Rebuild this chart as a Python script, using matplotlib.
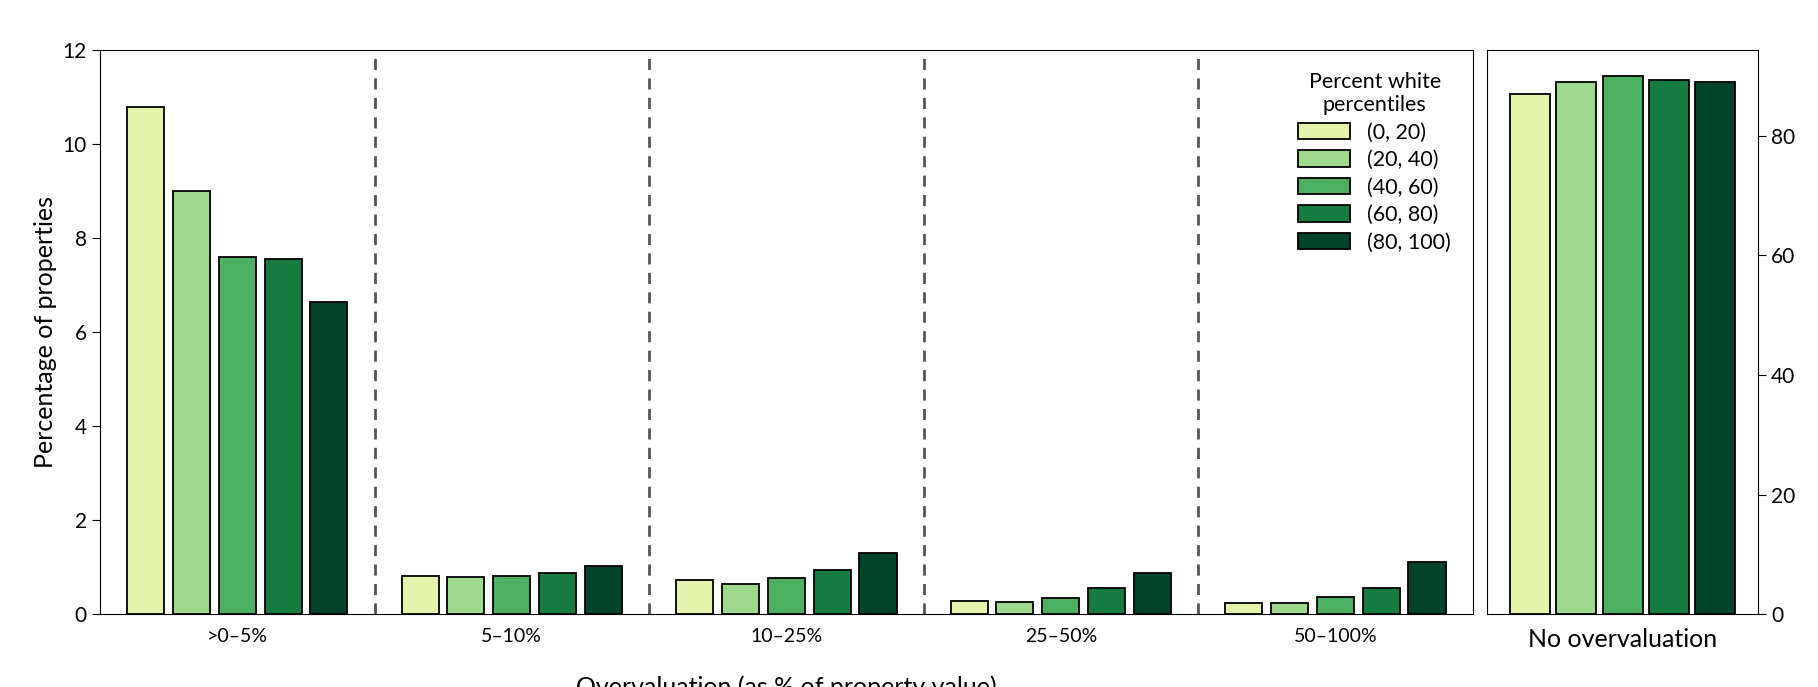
import matplotlib
matplotlib.use("Agg")
import matplotlib.pyplot as plt
import numpy as np

plt.rcParams["font.family"] = "Lato"

categories = [">0–5%", "5–10%", "10–25%", "25–50%", "50–100%"]
series = ["(0, 20)", "(20, 40)", "(40, 60)", "(60, 80)", "(80, 100)"]
values = {
    "(0, 20)":   [10.8, 0.82, 0.72, 0.27, 0.24],
    "(20, 40)":  [9.0, 0.80, 0.65, 0.25, 0.23],
    "(40, 60)":  [7.6, 0.82, 0.77, 0.35, 0.37],
    "(60, 80)":  [7.55, 0.88, 0.93, 0.55, 0.56],
    "(80, 100)": [6.65, 1.02, 1.30, 0.88, 1.12],
}
no_over = [87.0, 88.9, 89.9, 89.3, 88.9]
colors = ["#e4f4ad", "#a0d88e", "#4caf62", "#167b40", "#004429"]

fig = plt.figure(figsize=(18.18, 6.87), dpi=100)
ax = fig.add_axes([0.055, 0.106, 0.755, 0.821])
ax2 = fig.add_axes([0.818, 0.106, 0.149, 0.821])

x = np.arange(len(categories))
for i, s in enumerate(series):
    ax.bar(x + (i - 2) * 0.167, values[s], width=0.135, color=colors[i],
           edgecolor="black", linewidth=1.3, label=s, zorder=3)
for b in [0.5, 1.5, 2.5, 3.5]:
    ax.axvline(b, color="#555555", linestyle=(0, (4, 3)), linewidth=2)
ax.set_xlim(-0.5, 4.5)
ax.set_ylim(0, 12)
ax.set_xticks(x)
ax.set_xticklabels(categories)
ax.tick_params(axis="x", length=0, pad=10, labelsize=14)
ax.tick_params(axis="y", labelsize=15, length=6)
ax.set_ylabel("Percentage of properties", fontsize=18)
ax.set_xlabel("Overvaluation (as % of property value)", fontsize=18, labelpad=22)
leg = ax.legend(title="Percent white\npercentiles", loc="upper right", frameon=False,
                fontsize=15.5, title_fontsize=15.5, handlelength=2.4, handleheight=0.8,
                labelspacing=0.35, borderaxespad=0.6)
leg.get_title().set_multialignment("center")
leg._legend_box.align = "center"

for i in range(len(series)):
    ax2.bar((i - 2) * 0.171, no_over[i], width=0.148, color=colors[i],
            edgecolor="black", linewidth=1.3, zorder=3)
ax2.set_xlim(-0.5, 0.5)
ax2.set_ylim(0, 94.3)
ax2.set_xticks([0])
ax2.set_xticklabels(["No overvaluation"], fontsize=18)
ax2.tick_params(axis="x", length=0, pad=10)
ax2.yaxis.tick_right()
ax2.set_yticks([0, 20, 40, 60, 80])
ax2.tick_params(axis="y", labelsize=15, length=6)

fig.savefig("out.png", dpi=100)
